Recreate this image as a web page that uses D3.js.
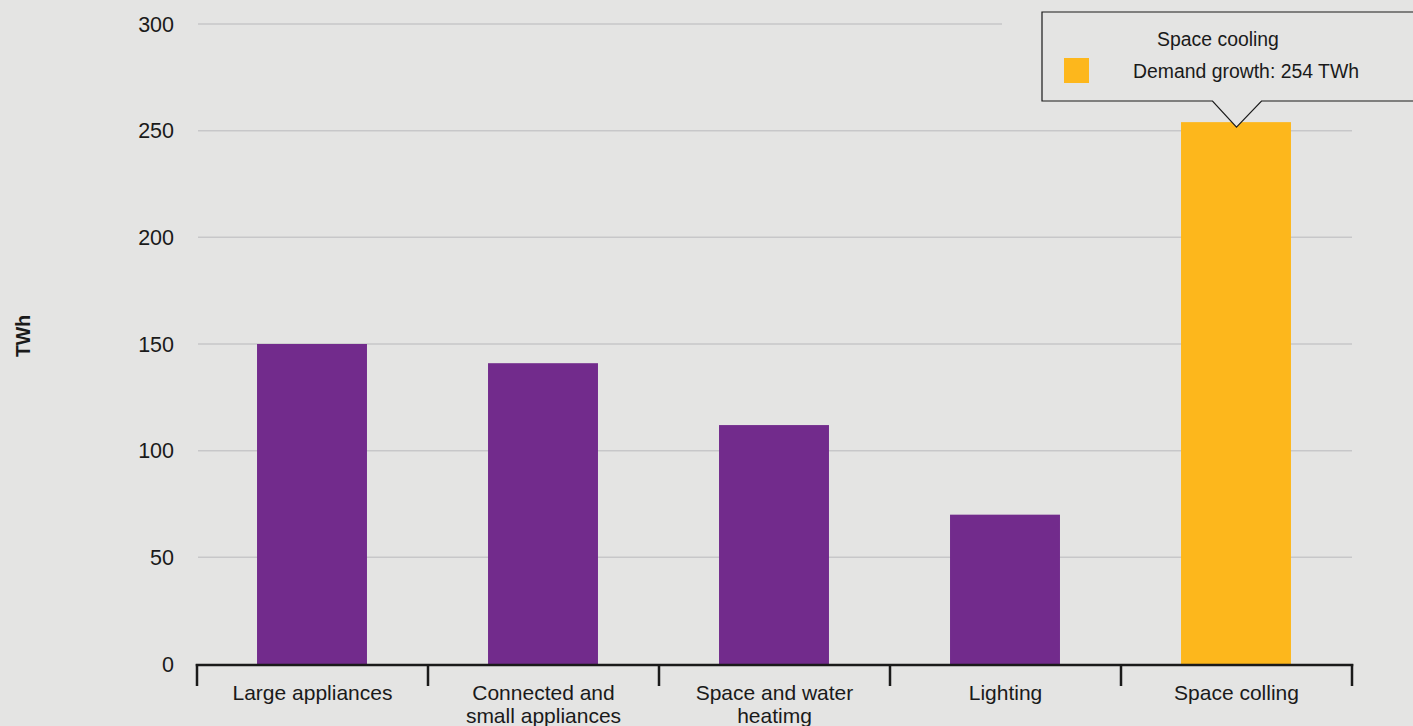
<!DOCTYPE html>
<html>
<head>
<meta charset="utf-8">
<script src="https://cdn.jsdelivr.net/npm/d3@7"></script>
<style>
  html, body { margin: 0; padding: 0; background: #e4e4e3; }
  svg { display: block; font-family: "Liberation Sans", Arial, sans-serif; }
</style>
</head>
<body>
<svg id="chart" width="1413" height="726"></svg>
<script>
// Electricity demand growth by end use (TWh)
const categories = [
  "Large appliances",
  "Connected and small appliances",
  "Space and water heatimg",
  "Lighting",
  "Space colling"
];
const categoryLines = [
  ["Large appliances"],
  ["Connected and", "small appliances"],
  ["Space and water", "heatimg"],
  ["Lighting"],
  ["Space colling"]
];
const demandGrowth = [150, 141, 112, 70, 254];
const highlighted = [false, false, false, false, true];
const yTicks = [0, 50, 100, 150, 200, 250, 300];
const tooltipTitle = "Space cooling";
const tooltipValueLabel = "Demand growth: 254 TWh";
const tooltipIndex = 4;

const W = 1413, H = 726;
const margin = { top: 24, right: 61, bottom: 62, left: 197 };
const bg = "#e4e4e3";
const purple = "#722b8c";
const orange = "#fdb71c";
const ink = "#1a1a1a";

const svg = d3.select("#chart");
svg.append("rect").attr("width", W).attr("height", H).attr("fill", bg);

const x = d3.scaleBand()
  .domain(categories)
  .range([margin.left, W - margin.right])
  .paddingInner(0.524)
  .paddingOuter(0.262);

const y = d3.scaleLinear()
  .domain([0, 300])
  .range([H - margin.bottom, margin.top]);

// horizontal gridlines
svg.append("g")
  .selectAll("line")
  .data(yTicks.filter(d => d > 0))
  .join("line")
  .attr("x1", margin.left + 1)
  .attr("x2", W - margin.right)
  .attr("y1", d => y(d))
  .attr("y2", d => y(d))
  .attr("stroke", "#c7c7c9")
  .attr("stroke-width", 1.5);

// y tick labels
svg.append("g")
  .selectAll("text")
  .data(yTicks)
  .join("text")
  .attr("x", 174)
  .attr("y", d => y(d))
  .attr("dy", "0.36em")
  .attr("text-anchor", "end")
  .attr("font-size", 21.5)
  .attr("fill", ink)
  .text(d => d);

// y axis title
svg.append("text")
  .attr("transform", `translate(30,336) rotate(-90)`)
  .attr("text-anchor", "middle")
  .attr("font-size", 19.5)
  .attr("font-weight", "bold")
  .attr("fill", ink)
  .text("TWh");

// bars
svg.append("g")
  .selectAll("rect")
  .data(categories)
  .join("rect")
  .attr("x", d => x(d) - 0.5)
  .attr("width", x.bandwidth())
  .attr("y", (d, i) => y(demandGrowth[i]))
  .attr("height", (d, i) => y(0) - y(demandGrowth[i]))
  .attr("fill", (d, i) => highlighted[i] ? orange : purple);

// x axis with boundary ticks between categories
const xAxis = svg.append("g");
const step = x.step();
const edges = d3.range(categories.length + 1).map(i => margin.left + i * step);
xAxis.append("line")
  .attr("x1", margin.left - 1.25)
  .attr("x2", W - margin.right + 1.25)
  .attr("y1", y(0) + 1)
  .attr("y2", y(0) + 1)
  .attr("stroke", ink)
  .attr("stroke-width", 2.5);
xAxis.selectAll(".edge")
  .data(edges)
  .join("line")
  .attr("class", "edge")
  .attr("x1", d => d)
  .attr("x2", d => d)
  .attr("y1", y(0))
  .attr("y2", y(0) + 22)
  .attr("stroke", ink)
  .attr("stroke-width", 2.5);

xAxis.selectAll(".cat")
  .data(categories)
  .join("text")
  .attr("class", "cat")
  .attr("x", d => x(d) + x.bandwidth() / 2)
  .attr("y", 700)
  .attr("text-anchor", "middle")
  .attr("font-size", 21)
  .attr("fill", ink)
  .each(function (d, i) {
    const t = d3.select(this);
    categoryLines[i].forEach((line, j) => {
      t.append("tspan")
        .attr("x", x(d) + x.bandwidth() / 2)
        .attr("dy", j === 0 ? 0 : 23)
        .text(line);
    });
  });

// tooltip callout above the highlighted bar
const tipCat = categories[tooltipIndex];
const cx = x(tipCat) + x.bandwidth() / 2;
const tipY = y(demandGrowth[tooltipIndex]) + 5;
const boxL = 1042, boxT = 12, boxB = 101, boxR = W + 10;
const tip = svg.append("g");
tip.append("rect")
  .attr("x", boxL - 40).attr("y", boxT + 6)
  .attr("width", boxR - boxL + 40).attr("height", 12)
  .attr("fill", bg);
tip.append("path")
  .attr("d", `M${boxL},${boxT} L${boxR},${boxT} L${boxR},${boxB} L${cx + 25},${boxB} L${cx},${tipY} L${cx - 24},${boxB} L${boxL},${boxB} Z`)
  .attr("fill", bg)
  .attr("stroke", ink)
  .attr("stroke-width", 1.2);
tip.append("text")
  .attr("x", 1218)
  .attr("y", 46)
  .attr("text-anchor", "middle")
  .attr("font-size", 19.4)
  .attr("fill", ink)
  .text(tooltipTitle);
tip.append("rect")
  .attr("x", 1064).attr("y", 58)
  .attr("width", 25).attr("height", 25)
  .attr("fill", orange);
tip.append("text")
  .attr("x", 1133)
  .attr("y", 78)
  .attr("font-size", 19.4)
  .attr("fill", ink)
  .text(tooltipValueLabel);
</script>
</body>
</html>
